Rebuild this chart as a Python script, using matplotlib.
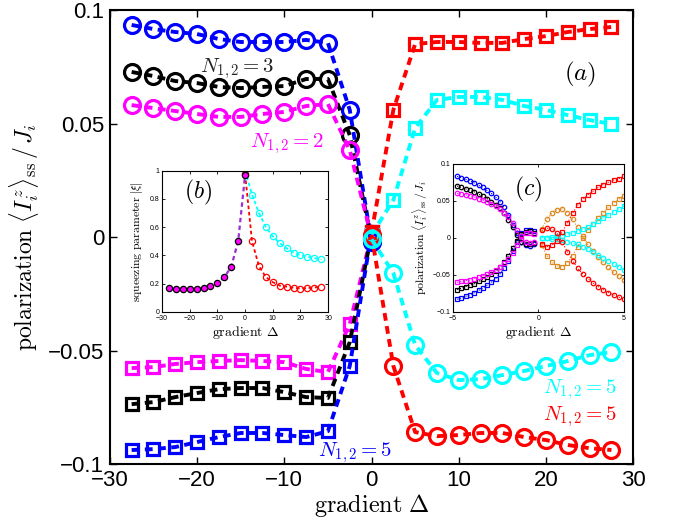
import numpy as np
import matplotlib
matplotlib.use("Agg")
import matplotlib.pyplot as plt
from matplotlib.ticker import FuncFormatter

plt.rcParams['mathtext.fontset'] = 'cm'
plt.rcParams['font.family'] = ['Liberation Sans', 'DejaVu Sans']

# ---- main panel data ----
x_left = [-27.5, -25, -22.5, -20, -17.5, -15, -12.5, -10, -7.5, -5, -2.5, 0]
x_right = [0, 2.5, 5, 7.5, 10, 12.5, 15, 17.5, 20, 22.5, 25, 27.5]

blue_circ = [0.0934, 0.0916, 0.0903, 0.0894, 0.0872, 0.0859, 0.0859, 0.0859, 0.0868, 0.0855, 0.056, -0.002]
black_circ = [0.0727, 0.0709, 0.0687, 0.0678, 0.0661, 0.0656, 0.0661, 0.0665, 0.0696, 0.0696, 0.0449, -0.001]
mag_circ = [0.0581, 0.0568, 0.0555, 0.0542, 0.0529, 0.0529, 0.0542, 0.0551, 0.0577, 0.0586, 0.0383, 0.0]
mag_sq = [-0.0577, -0.0573, -0.0559, -0.0551, -0.0546, -0.0542, -0.0546, -0.0551, -0.0581, -0.0595, -0.0383, 0.001]
black_sq = [-0.0736, -0.0727, -0.0705, -0.0687, -0.0670, -0.0665, -0.0665, -0.0683, -0.0705, -0.0709, -0.0463, 0.001]
blue_sq = [-0.0938, -0.0934, -0.0925, -0.0903, -0.0881, -0.0863, -0.0863, -0.0872, -0.0881, -0.0855, -0.0568, 0.002]

red_sq = [0.002, 0.056, 0.085, 0.0859, 0.0859, 0.0855, 0.0855, 0.0872, 0.0885, 0.0903, 0.0916, 0.0925]
cyan_sq = [0.001, 0.0163, 0.048, 0.0604, 0.0617, 0.0617, 0.0604, 0.0577, 0.056, 0.0537, 0.0515, 0.0498]
red_circ = [0.001, -0.0568, -0.0859, -0.0877, -0.0872, -0.0863, -0.0863, -0.0881, -0.0894, -0.0916, -0.0930, -0.0938]
cyan_circ = [-0.001, -0.0159, -0.0476, -0.0599, -0.063, -0.0626, -0.0608, -0.059, -0.0568, -0.0546, -0.052, -0.0507]

# ---- inset (b) data ----
xb_left = [-27.5, -25, -22.5, -20, -17.5, -15, -12.5, -10, -7.5, -5, -2.5, 0]
xb_right = [0, 2.5, 5, 7.5, 10, 12.5, 15, 17.5, 20, 22.5, 25, 27.5]
xi_left = [0.17, 0.165, 0.162, 0.16, 0.163, 0.167, 0.18, 0.205, 0.245, 0.32, 0.5, 0.97]
xi_cyan = [1.0, 0.83, 0.70, 0.60, 0.535, 0.486, 0.45, 0.42, 0.40, 0.39, 0.38, 0.373]
xi_red = [0.975, 0.5, 0.324, 0.246, 0.21, 0.186, 0.178, 0.17, 0.165, 0.168, 0.172, 0.178]

# ---- inset (c) data ----
xc_left = [-4.75, -4.5, -4.25, -4.0, -3.75, -3.5, -3.25, -3.0, -2.75, -2.5,
           -2.25, -2.0, -1.75, -1.5, -1.25, -1.0, -0.75, -0.5, -0.25]
c_blue_circ = [0.083, 0.081, 0.079, 0.077, 0.074, 0.071, 0.068, 0.064, 0.060, 0.055,
               0.049, 0.041, 0.031, 0.018, 0.006, -0.006, -0.010, -0.011, -0.009]
c_black_circ = [0.070, 0.068, 0.066, 0.064, 0.062, 0.059, 0.056, 0.053, 0.049, 0.045,
                0.040, 0.033, 0.024, 0.014, 0.004, -0.005, -0.008, -0.009, -0.007]
c_mag_circ = [0.060, 0.059, 0.058, 0.057, 0.055, 0.053, 0.051, 0.049, 0.046, 0.043,
              0.039, 0.034, 0.028, 0.020, 0.010, -0.002, -0.006, -0.007, -0.005]
c_blue_sq = [-0.083, -0.081, -0.079, -0.077, -0.074, -0.071, -0.068, -0.064, -0.060, -0.055,
             -0.049, -0.041, -0.031, -0.018, -0.006, 0.006, 0.010, 0.011, 0.009]
c_black_sq = [-0.070, -0.068, -0.066, -0.064, -0.062, -0.059, -0.056, -0.053, -0.049, -0.045,
              -0.040, -0.033, -0.024, -0.014, -0.004, 0.005, 0.008, 0.009, 0.007]
c_mag_sq = [-0.060, -0.059, -0.058, -0.057, -0.055, -0.053, -0.051, -0.049, -0.046, -0.043,
            -0.039, -0.034, -0.028, -0.020, -0.010, 0.002, 0.006, 0.007, 0.005]

xc_right = [0.2, 0.5, 0.8, 1.1, 1.4, 1.7, 2.0, 2.3, 2.6, 2.9, 3.2, 3.5, 3.8, 4.1, 4.4, 4.7, 5.0]
c_red_sq = [-0.008, -0.012, -0.010, -0.004, 0.008, 0.020, 0.033, 0.044, 0.052, 0.058,
            0.063, 0.068, 0.072, 0.075, 0.078, 0.080, 0.083]
c_red_circ = [0.010, 0.013, 0.012, 0.006, -0.006, -0.019, -0.031, -0.041, -0.049, -0.055,
              -0.061, -0.066, -0.070, -0.074, -0.077, -0.080, -0.083]
c_or_circ = [0.012, 0.025, 0.033, 0.038, 0.039, 0.034, 0.025, 0.014, 0.002, -0.009,
             -0.018, -0.026, -0.033, -0.040, -0.046, -0.052, -0.057]
c_or_sq = [-0.010, -0.024, -0.033, -0.038, -0.039, -0.034, -0.024, -0.012, 0.0, 0.010,
           0.019, 0.027, 0.034, 0.041, 0.047, 0.052, 0.057]
c_cyan_sq = [0.0, 0.0, 0.001, 0.002, 0.003, 0.005, 0.007, 0.009, 0.012, 0.015,
             0.019, 0.023, 0.027, 0.031, 0.035, 0.039, 0.043]
c_cyan_circ = [-0.0, -0.0, -0.001, -0.002, -0.003, -0.005, -0.007, -0.009, -0.012, -0.015,
               -0.019, -0.023, -0.027, -0.031, -0.035, -0.039, -0.043]

BLUE = '#0000ff'
RED = '#ff0000'
CYAN = '#00ffff'
MAG = '#ff00ff'
ORANGE = '#dd8a22'


def fmt(v, pos):
    s = '%g' % v
    return s.replace('-', '\u2212')


fig = plt.figure(figsize=(6.78, 5.25), dpi=100)
ax = fig.add_axes([0.162, 0.116, 0.772, 0.865])

ls_main = (0, (2.0, 1.4))
kw = dict(lw=2.8, ls=ls_main, mfc='none', mew=2.3)
ax.plot(x_left, blue_circ, color=BLUE, marker='o', ms=11.5, **kw)
ax.plot(x_left, black_circ, color='k', marker='o', ms=11.5, **kw)
ax.plot(x_left, mag_circ, color=MAG, marker='o', ms=11.5, **kw)
ax.plot(x_left, mag_sq, color=MAG, marker='s', ms=9, **kw)
ax.plot(x_left, black_sq, color='k', marker='s', ms=9, **kw)
ax.plot(x_left, blue_sq, color=BLUE, marker='s', ms=9, **kw)
ax.plot(x_right, red_sq, color=RED, marker='s', ms=9, **kw)
ax.plot(x_right, cyan_sq, color=CYAN, marker='s', ms=9, **kw)
ax.plot(x_right, red_circ, color=RED, marker='o', ms=11.5, **kw)
ax.plot(x_right, cyan_circ, color=CYAN, marker='o', ms=11.5, **kw)

ax.set_xlim(-30, 30)
ax.set_ylim(-0.1, 0.1)
ax.set_xticks([-30, -20, -10, 0, 10, 20, 30])
ax.set_yticks([-0.1, -0.05, 0, 0.05, 0.1])
ax.xaxis.set_major_formatter(FuncFormatter(fmt))
ax.yaxis.set_major_formatter(FuncFormatter(fmt))
ax.tick_params(direction='in', top=True, right=True, length=5, width=1, labelsize=16, pad=4)
for sp in ax.spines.values():
    sp.set_linewidth(1.5)
ax.set_xlabel(r'$\mathrm{gradient}\ \Delta$', fontsize=17.5, labelpad=1)
ax.set_ylabel(r'$\mathrm{polarization}\ \langle I_i^z\rangle_{\mathrm{ss}}\,/\,J_i$', fontsize=17, labelpad=5)

ax.text(-15.4, 0.0744, r'$N_{1,2}=3$', color='#222222', fontsize=15, ha='center', va='center')
ax.text(-9.7, 0.041, r'$N_{1,2}=2$', color=MAG, fontsize=15, ha='center', va='center')
ax.text(-1.9, -0.0947, r'$N_{1,2}=5$', color=BLUE, fontsize=15, ha='center', va='center')
ax.text(23.9, -0.067, r'$N_{1,2}=5$', color=CYAN, fontsize=15, ha='center', va='center')
ax.text(23.9, -0.0789, r'$N_{1,2}=5$', color=RED, fontsize=15, ha='center', va='center')
ax.text(23.9, 0.0714, r'$(a)$', fontsize=18, ha='center', va='center')

# ---- inset (b) ----
axb = fig.add_axes([0.239, 0.406, 0.245, 0.269])
axb.plot(xb_right, xi_cyan, color=CYAN, ls=(0, (2, 1.5)), lw=1.3, marker='o', ms=4.5, mfc='none', mew=0.9)
axb.plot(xb_right, xi_red, color=RED, ls=(0, (2, 1.5)), lw=1.3, marker='o', ms=4.5, mfc='none', mew=0.9)
axb.plot(xb_left, xi_left, color='#9b30d0', ls=(0, (2, 1.5)), lw=1.6, marker='o', ms=4.5,
         mfc=MAG, mec='k', mew=0.9)
axb.set_xlim(-30, 30)
axb.set_ylim(0, 1)
axb.set_xticks([-30, -20, -10, 0, 10, 20, 30])
axb.set_yticks([0, 0.2, 0.4, 0.6, 0.8, 1])
axb.xaxis.set_major_formatter(FuncFormatter(fmt))
axb.yaxis.set_major_formatter(FuncFormatter(fmt))
axb.tick_params(direction='in', top=True, right=True, length=2.5, width=0.6, labelsize=5, pad=2)
axb.set_xlabel(r'$\mathrm{gradient}\ \Delta$', fontsize=10, labelpad=2)
axb.set_ylabel(r'$\mathrm{squeezing\ parameter}\ |\xi|$', fontsize=8.5, labelpad=3)
axb.text(-17, 0.845, r'$(b)$', fontsize=17, ha='center', va='center')

# ---- inset (c) ----
axc = fig.add_axes([0.668, 0.406, 0.252, 0.282])
kc = dict(ls=':', lw=0.8, ms=3.2, mfc='none', mew=0.9)
axc.plot(xc_left, c_blue_circ, color=BLUE, marker='o', **kc)
axc.plot(xc_left, c_black_circ, color='k', marker='o', **kc)
axc.plot(xc_left, c_mag_circ, color=MAG, marker='o', **kc)
axc.plot(xc_left, c_blue_sq, color=BLUE, marker='s', **kc)
axc.plot(xc_left, c_black_sq, color='k', marker='s', **kc)
axc.plot(xc_left, c_mag_sq, color=MAG, marker='s', **kc)
axc.plot(xc_right, c_or_circ, color=ORANGE, marker='o', **kc)
axc.plot(xc_right, c_or_sq, color=ORANGE, marker='s', **kc)
axc.plot(xc_right, c_cyan_sq, color=CYAN, marker='s', **kc)
axc.plot(xc_right, c_cyan_circ, color=CYAN, marker='o', **kc)
axc.plot(xc_right, c_red_sq, color=RED, marker='s', **kc)
axc.plot(xc_right, c_red_circ, color=RED, marker='o', **kc)
axc.set_xlim(-5, 5)
axc.set_ylim(-0.1, 0.1)
axc.set_xticks([-5, 0, 5])
axc.set_yticks([-0.1, -0.05, 0, 0.05, 0.1])
axc.xaxis.set_major_formatter(FuncFormatter(fmt))
axc.yaxis.set_major_formatter(FuncFormatter(fmt))
axc.tick_params(direction='in', top=True, right=True, length=2.5, width=0.6, labelsize=5, pad=2)
axc.set_xlabel(r'$\mathrm{gradient}\ \Delta$', fontsize=10, labelpad=2)
axc.set_ylabel(r'$\mathrm{polarization}\ \langle I_i^z\rangle_{\mathrm{ss}}\,/\,J_i$', fontsize=8.5, labelpad=2)
axc.text(-0.6, 0.066, r'$(c)$', fontsize=17, ha='center', va='center')

fig.savefig('out.png', dpi=100)
